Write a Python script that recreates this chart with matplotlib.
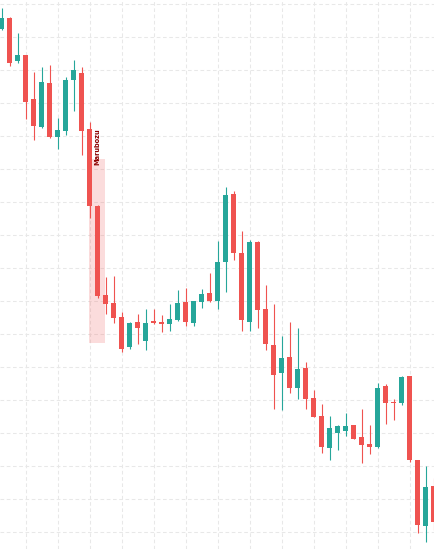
import numpy as np
import matplotlib.pyplot as plt
from matplotlib.patches import Rectangle

# OHLC values (price scale arbitrary)
opens = [57.1, 58.2, 53.93, 54.5, 50.1, 47.3, 51.7, 46.33, 46.93, 52.03,
         52.7, 47.1, 39.4, 30.5, 29.7, 28.3, 25.33, 27.8, 25.93, 27.9,
         27.8, 27.63, 28.03, 29.8, 27.73, 29.83, 30.7, 29.93, 33.83, 40.6,
         34.7, 27.83, 35.8, 29.1, 25.5, 22.73, 24.3, 21.23, 23.2, 20.2,
         18.4, 15.23, 16.73, 16.93, 17.5, 16.3, 15.6, 15.33, 21.4, 19.83,
         19.73, 22.4, 14.0, 7.43, 11.4]
highs = [59.17, 58.3, 56.7, 54.5, 52.83, 53.3, 53.5, 48.2, 52.3, 54.0,
         53.3, 47.77, 39.5, 32.3, 32.43, 28.8, 27.8, 28.6, 29.1, 29.1,
         28.5, 29.6, 31.0, 31.2, 29.9, 31.1, 32.7, 35.9, 41.3, 40.9,
         36.9, 36.0, 35.9, 31.5, 29.63, 26.4, 27.8, 27.2, 23.8, 21.0,
         19.6, 18.4, 17.5, 18.7, 17.5, 19.1, 17.5, 21.7, 21.6, 20.1,
         22.4, 22.4, 14.0, 13.43, 12.2]
lows = [57.0, 53.43, 53.73, 48.13, 46.03, 47.2, 46.23, 45.13, 46.53, 48.93,
        44.53, 38.23, 30.23, 28.63, 27.73, 24.83, 25.1, 25.63, 25.03, 27.63,
        26.8, 26.93, 27.93, 27.43, 27.43, 29.23, 29.8, 29.13, 30.83, 34.03,
        26.93, 26.93, 27.23, 25.03, 19.13, 19.0, 20.73, 20.13, 19.13, 18.33,
        14.73, 14.03, 15.03, 16.43, 16.13, 13.73, 14.63, 15.23, 17.63, 18.03,
        19.53, 13.83, 6.73, 5.83, 7.03]
closes = [58.2, 53.73, 54.5, 49.83, 47.43, 51.8, 46.33, 47.0, 52.0, 53.0,
          46.93, 39.43, 30.43, 29.63, 28.23, 25.13, 27.7, 27.23, 27.7, 27.7,
          27.63, 28.1, 29.7, 27.83, 29.9, 30.6, 29.9, 33.8, 40.5, 34.73,
          28.03, 35.8, 29.03, 25.63, 22.53, 24.2, 21.23, 23.1, 20.13, 18.33,
          15.33, 17.2, 17.4, 17.4, 16.13, 15.53, 15.33, 21.2, 19.73, 19.73,
          22.3, 14.03, 7.53, 11.3, 7.83]

pattern_label = "Marubozu"
pattern_start = 10.9
pattern_end = 12.9
pattern_top = 44.1
pattern_bottom = 25.73
label_x = 12
label_y = 43.5

UP = "#26a69a"
DOWN = "#ef5350"

o = np.array(opens)
h = np.array(highs)
l = np.array(lows)
c = np.array(closes)
x = np.arange(len(o))
colors = [UP if cc >= oo else DOWN for oo, cc in zip(o, c)]

fig = plt.figure(figsize=(4.35, 5.49), dpi=100)
ax = fig.add_axes([0, 0, 1, 1])

# grid
for gx in np.arange(3, 55, 4):
    ax.axvline(gx, color="#e8e8e8", lw=0.75, ls=(0, (3.5, 2.5)), zorder=0)
for gy in np.arange(60 - 0.43, 5, -3.3):
    ax.axhline(gy, color="#e8e8e8", lw=0.75, ls=(0, (3.5, 2.5)), zorder=0)

# pattern highlight
ax.add_patch(Rectangle((pattern_start, pattern_bottom), pattern_end - pattern_start,
                       pattern_top - pattern_bottom, facecolor=DOWN, alpha=0.2,
                       edgecolor="none", zorder=1))

# wicks and bodies
ax.vlines(x, l, h, colors=colors, lw=0.8, zorder=2)
ax.bar(x, np.abs(c - o), bottom=np.minimum(o, c), width=0.625, color=colors,
       linewidth=0, zorder=3)

ax.text(label_x, label_y, pattern_label, rotation=90, ha="center", va="bottom",
        fontsize=4.8, fontweight="bold", color="#8b0000", zorder=4)

ax.set_xlim(-0.2125, 54.1625)
ax.set_ylim(5.1, 60)
ax.axis("off")

fig.savefig("out.png", dpi=100)
